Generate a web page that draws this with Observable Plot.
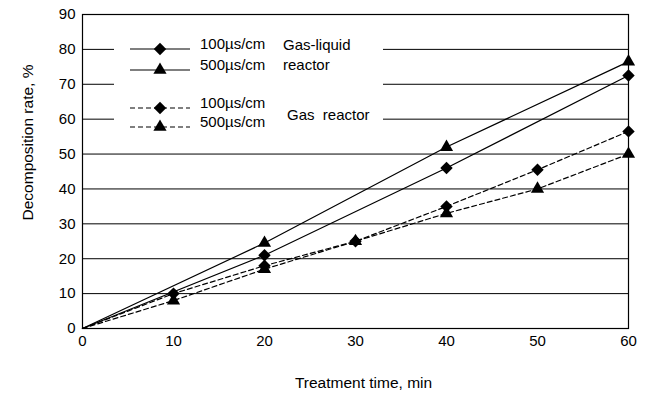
<!DOCTYPE html>
<html>
<head>
<meta charset="utf-8">
<script src="https://cdn.jsdelivr.net/npm/d3@7"></script>
<script src="https://cdn.jsdelivr.net/npm/@observablehq/plot@0.6"></script>
<style>
  body { margin: 0; background: #fff; font-family: "Liberation Sans", Arial, sans-serif; }
  #wrap { position: relative; width: 647px; height: 396px; }
  #legend { position: absolute; left: 114px; top: 35px; width: 269px; height: 102px; background: #fff; }
  #legend text { font-family: "Liberation Sans", Arial, sans-serif; font-size: 15px; fill: #000; }
</style>
</head>
<body>
<div id="wrap"></div>
<script>
// Gas-liquid reactor
const glTime = [0, 20, 40, 60];
const gl100 = [0, 21, 46, 72.5];
const gl500 = [0, 24.5, 52, 76.5];
// Gas reactor
const gTime = [0, 10, 20, 30, 40, 50, 60];
const g100 = [0, 10, 18, 25, 35, 45.5, 56.5];
const g500 = [0, 8, 17, 25, 33, 40, 50];

const xTicks = [0, 10, 20, 30, 40, 50, 60];
const yTicks = [0, 10, 20, 30, 40, 50, 60, 70, 80, 90];
const gridTicks = [10, 20, 30, 40, 50, 60, 70, 80];

const xTitle = "Treatment time, min";
const yTitle = "Decomposition rate, %";
const legendRows = ["100µs/cm", "500µs/cm", "100µs/cm", "500µs/cm"];

const toRows = (t, v) => t.map((x, i) => ({x, y: v[i]}));
const s1 = toRows(glTime, gl100);
const s2 = toRows(glTime, gl500);
const s3 = toRows(gTime, g100);
const s4 = toRows(gTime, g500);

const font = "Liberation Sans, Arial, sans-serif";

const chart = Plot.plot({
  width: 647,
  height: 396,
  marginLeft: 82,
  marginRight: 19,
  marginTop: 14,
  marginBottom: 68,
  style: {fontFamily: font, fontSize: "15px", color: "#000", background: "#fff"},
  x: {domain: [0, 60]},
  y: {domain: [0, 90]},
  marks: [
    Plot.gridY(gridTicks, {stroke: "#000", strokeOpacity: 1, strokeWidth: 1}),
    Plot.frame({stroke: "#000", strokeWidth: 1.2}),
    Plot.axisX(xTicks, {tickSize: 0, tickPadding: 7, fontSize: 15, label: null}),
    Plot.axisY(yTicks, {tickSize: 0, tickPadding: 7, fontSize: 15, label: null}),
    Plot.line(s1, {x: "x", y: "y", stroke: "#000", strokeWidth: 1.2}),
    Plot.line(s2, {x: "x", y: "y", stroke: "#000", strokeWidth: 1.2}),
    Plot.line(s3, {x: "x", y: "y", stroke: "#000", strokeWidth: 1.2, strokeDasharray: "5,3"}),
    Plot.line(s4, {x: "x", y: "y", stroke: "#000", strokeWidth: 1.2, strokeDasharray: "5,3"}),
    Plot.dot(s1.slice(1), {x: "x", y: "y", symbol: "diamond2", r: 5.6, fill: "#000"}),
    Plot.dot(s2.slice(1), {x: "x", y: "y", symbol: "triangle", r: 4.9, fill: "#000"}),
    Plot.dot(s3.slice(1), {x: "x", y: "y", symbol: "diamond2", r: 5.6, fill: "#000"}),
    Plot.dot(s4.slice(1), {x: "x", y: "y", symbol: "triangle", r: 4.9, fill: "#000"}),
    Plot.text([xTitle], {frameAnchor: "bottom", textAnchor: "middle", dx: 8, dy: 55, fontSize: 15.5, fill: "#000", lineAnchor: "middle"}),
    Plot.text([yTitle], {frameAnchor: "left", textAnchor: "middle", rotate: -90, dx: -54, dy: -29, fontSize: 15.5, fill: "#000", lineAnchor: "middle"})
  ]
});

const wrap = document.getElementById("wrap");
wrap.appendChild(chart);

// Legend overlay
const lg = document.createElement("div");
lg.id = "legend";
wrap.appendChild(lg);
const svg = d3.select(lg).append("svg").attr("width", 269).attr("height", 102);
const rowY = [14, 35, 73, 92];
const dashed = [false, false, true, true];
const syms = [d3.symbolDiamond2, d3.symbolTriangle, d3.symbolDiamond2, d3.symbolTriangle];
const symSize = [Math.PI * 5.6 * 5.6, Math.PI * 4.9 * 4.9, Math.PI * 5.6 * 5.6, Math.PI * 4.9 * 4.9];
legendRows.forEach((lab, i) => {
  svg.append("line").attr("x1", 16).attr("x2", 76).attr("y1", rowY[i]).attr("y2", rowY[i])
    .attr("stroke", "#000").attr("stroke-width", 1.2)
    .attr("stroke-dasharray", dashed[i] ? "5,3" : null);
  svg.append("path").attr("d", d3.symbol(syms[i], symSize[i])())
    .attr("transform", `translate(46,${rowY[i]})`).attr("fill", "#000");
  svg.append("text").attr("x", 86).attr("y", rowY[i] - 4).attr("dominant-baseline", "middle").text(lab);
});
svg.append("text").attr("x", 169).attr("y", 11).attr("dominant-baseline", "middle").text("Gas-liquid");
svg.append("text").attr("x", 169).attr("y", 31).attr("dominant-baseline", "middle").text("reactor");
svg.append("text").attr("x", 173).attr("y", 81).attr("dominant-baseline", "middle").style("white-space", "pre").text("Gas  reactor");
</script>
</body>
</html>
